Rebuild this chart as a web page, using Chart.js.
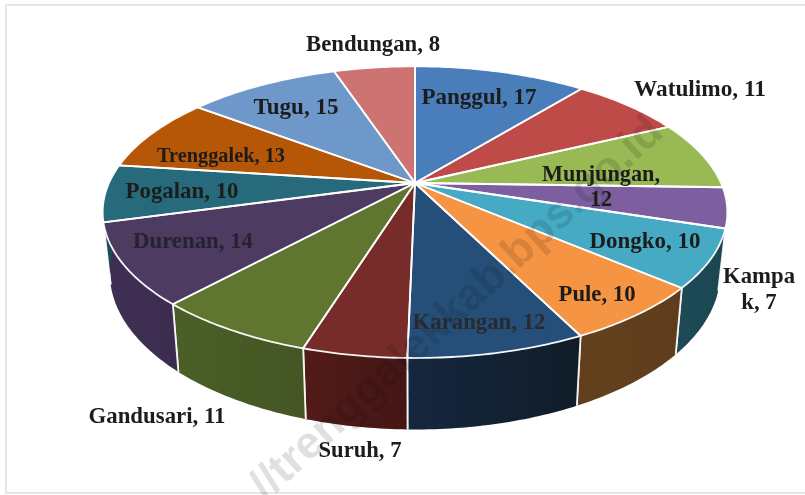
<!DOCTYPE html>
<html><head><meta charset="utf-8">
<script src="https://cdn.jsdelivr.net/npm/chart.js@4"></script>
<style>html,body{margin:0;padding:0;background:#fff}canvas{display:block;filter:blur(0.7px)}</style>
</head><body><canvas id="c" width="805" height="495"></canvas>
<script>
const categories = ['Panggul','Watulimo','Munjungan','Kampak','Dongko','Pule','Karangan','Suruh','Gandusari','Durenan','Pogalan','Trenggalek','Tugu','Bendungan'];
const values = [17,11,12,7,10,10,12,7,11,14,10,13,15,8];
const topColors = ['#4a7ebb','#be4b48','#98b954','#7d5fa0','#46aac4','#f59443','#254f79','#772c2a','#5f7530','#4d3b62','#276a7c','#b65708','#6f98ca','#cd7371'];
const wallColors = ['#2c4a70','#722d2b','#5b6e32','#4a3860','#1d4a55','#63401d','#15273f','#521b19','#4a5f28','#3f2f54','#1d4a55','#6b3405','#42597a','#7a4443'];
const wallShade = ['#2c4a70','#722d2b','#5b6e32','#4a3860','#1b4650','#5f3d1c','#101c28','#431614','#445624','#3c2d50','#1d4a55','#6b3405','#42597a','#7a4443'];
const labelLayout = [
  {lines:['Panggul, 17'],x:479,y:98,w:115},
  {lines:['Watulimo, 11'],x:700,y:90,w:132},
  {lines:['Munjungan,','12'],x:601,y:175,w:118,lh:25},
  {lines:['Kampa','k, 7'],x:759,y:277,w:72,lh:26},
  {lines:['Dongko, 10'],x:645,y:242,w:111},
  {lines:['Pule, 10'],x:597,y:295,w:77},
  {lines:['Karangan, 12'],x:479,y:323,w:133,c:'#2a2a2e'},
  {lines:['Suruh, 7'],x:360,y:451,w:83},
  {lines:['Gandusari, 11'],x:157,y:417,w:137},
  {lines:['Durenan, 14'],x:193,y:242,w:120,c:'#262230'},
  {lines:['Pogalan, 10'],x:182,y:192,w:113},
  {lines:['Trenggalek, 13'],x:221,y:157,w:128,fs:20},
  {lines:['Tugu, 15'],x:296,y:108,w:85},
  {lines:['Bendungan, 8'],x:373,y:45,w:134}
];
const watermark = 'http://trenggalekkab.bps.go.id';

const P = 0.2, X0 = 415, Y0 = 183, RX = 306, RY = 140, RX2 = 299, RY2 = 150, Y1 = 242;
const topPt = a => { const u=Math.cos(a), v=Math.sin(a), d=1-P*v; return [X0+RX*u/d, Y0+RY*v/d]; };
const botPt = a => { const u=Math.cos(a), v=Math.sin(a), d=1-P*v; return [X0+RX2*u/d, Y1+RY2*v/d]; };
const arcPts = (fn,a0,a1) => { const n=Math.max(2,Math.ceil(Math.abs(a1-a0)/0.015)), r=[]; for(let i=0;i<=n;i++) r.push(fn(a0+(a1-a0)*i/n)); return r; };

const pie3d = {
  id:'pie3d',
  beforeDatasetDraw(chart,args){
    const ctx=chart.ctx, arcs=chart.getDatasetMeta(0).data;
    ctx.save();
    ctx.strokeStyle='#e6e6e6'; ctx.lineWidth=2;
    ctx.beginPath(); ctx.moveTo(805,5); ctx.lineTo(6,5); ctx.lineTo(6,493); ctx.lineTo(805,493); ctx.stroke();
    arcs.forEach((arc,i)=>{
      const steps=[]; const n=80;
      for(let k=0;k<=n;k++){const a=arc.startAngle+(arc.endAngle-arc.startAngle)*k/n; if(Math.sin(a)>-0.06) steps.push(a);}
      if(steps.length<2) return;
      const a0=steps[0], a1=steps[steps.length-1];
      const t=arcPts(topPt,a0,a1), b=arcPts(botPt,a1,a0);
      const xa=topPt(a0)[0], xb=topPt(a1)[0];
      const g=ctx.createLinearGradient(Math.min(xa,xb),0,Math.max(xa,xb)+1,0);
      g.addColorStop(0,wallColors[i]); g.addColorStop(1,wallShade[i]);
      ctx.fillStyle=g; ctx.beginPath();
      t.concat(b).forEach((p,k)=>k?ctx.lineTo(p[0],p[1]):ctx.moveTo(p[0],p[1]));
      ctx.closePath(); ctx.fill();
      ctx.strokeStyle='rgba(255,255,255,0.9)'; ctx.lineWidth=1.8;
      [arc.startAngle,arc.endAngle].forEach(a=>{ if(Math.sin(a)>0.15){const p=topPt(a),q=botPt(a);ctx.beginPath();ctx.moveTo(p[0],p[1]);ctx.lineTo(q[0],q[1]);ctx.stroke();}});
    });
    arcs.forEach((arc,i)=>{
      const t=arcPts(topPt,arc.startAngle,arc.endAngle);
      ctx.beginPath(); ctx.moveTo(X0,Y0); t.forEach(p=>ctx.lineTo(p[0],p[1])); ctx.closePath();
      ctx.fillStyle=topColors[i]; ctx.fill();
    });
    arcs.forEach(arc=>{
      const t=arcPts(topPt,arc.startAngle,arc.endAngle);
      ctx.beginPath(); ctx.moveTo(X0,Y0); t.forEach(p=>ctx.lineTo(p[0],p[1])); ctx.closePath();
      ctx.strokeStyle='rgba(255,255,255,0.95)'; ctx.lineWidth=1.8; ctx.lineJoin='round'; ctx.stroke();
    });
    ctx.restore();
    return false;
  },
  afterDatasetsDraw(chart){
    const ctx=chart.ctx;
    ctx.save();
    ctx.save();
    ctx.translate(266,502); ctx.rotate(-0.744);
    ctx.font='bold 45px "Liberation Sans",Arial,sans-serif';
    ctx.textAlign='left'; ctx.textBaseline='alphabetic';
    ctx.globalCompositeOperation='multiply';
    ctx.fillStyle='rgba(0,0,0,0.12)';
    ctx.fillText(watermark.slice(5),0,0);
    ctx.restore();
    ctx.textAlign='center'; ctx.textBaseline='middle';
    labelLayout.forEach(l=>{
      const fs=l.fs||23;
      ctx.font='bold '+fs+'px "Liberation Serif","Times New Roman",serif';
      const w=ctx.measureText(l.lines[0]).width, sx=l.w/w;
      l.lines.forEach((s,k)=>{
        ctx.save();
        ctx.translate(l.x,l.y+k*(l.lh||0)); ctx.scale(sx,1);
        ctx.fillStyle=l.c||'#1c1c1c';
        ctx.fillText(s,0,0);
        ctx.restore();
      });
    });
    ctx.restore();
  }
};

new Chart(document.getElementById('c'),{
  type:'pie',
  data:{labels:categories,datasets:[{data:values,backgroundColor:topColors,borderColor:'#fff',borderWidth:1.5}]},
  options:{responsive:false,animation:false,rotation:0,
    plugins:{legend:{display:false},tooltip:{enabled:false}}},
  plugins:[pie3d]
});
</script></body></html>
